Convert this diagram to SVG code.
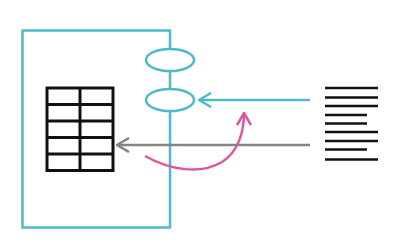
<svg xmlns="http://www.w3.org/2000/svg" width="404" height="248" viewBox="0 0 404 248">
<defs>
<style>
.blue{fill:none;stroke:#4fb9cc;stroke-width:2.5}
.tbl{fill:none;stroke:#111;stroke-width:3}
.doc{stroke:#111;stroke-width:2.6}
</style>
<marker id="ab" viewBox="0 0 14 16" refX="13" refY="8" markerWidth="14" markerHeight="16" markerUnits="userSpaceOnUse" orient="auto"><path d="M1,1 L13,8 L1,15" fill="none" stroke="#4fb9cc" stroke-width="2.5"/></marker>
<marker id="ag" viewBox="0 0 14 16" refX="13" refY="8" markerWidth="14" markerHeight="16" markerUnits="userSpaceOnUse" orient="auto"><path d="M1,1 L13,8 L1,15" fill="none" stroke="#858585" stroke-width="2.5"/></marker>
<marker id="ap" viewBox="0 0 14 16" refX="13" refY="8" markerWidth="14" markerHeight="16" markerUnits="userSpaceOnUse" orient="auto"><path d="M1,1 L13,8 L1,15" fill="none" stroke="#e0559b" stroke-width="2.5"/></marker>
</defs>
<g id="container">
<path class="blue" d="M170,49 V30.5 H22.5 V227.5 H170 V111"/>
<line class="blue" x1="170" y1="71" x2="170" y2="89"/>
</g>
<g id="port1"><ellipse class="blue" cx="170" cy="60" rx="24" ry="11"/></g>
<g id="port2"><ellipse class="blue" cx="170" cy="100" rx="24" ry="11"/></g>
<g id="table">
<rect class="tbl" x="47" y="88" width="66" height="82.5"/>
<line class="tbl" x1="80" y1="88" x2="80" y2="170.5"/>
<line class="tbl" x1="47" y1="104.5" x2="113" y2="104.5"/>
<line class="tbl" x1="47" y1="121" x2="113" y2="121"/>
<line class="tbl" x1="47" y1="137.5" x2="113" y2="137.5"/>
<line class="tbl" x1="47" y1="154" x2="113" y2="154"/>
</g>
<g id="document">
<line class="doc" x1="325" y1="88" x2="378" y2="88"/>
<line class="doc" x1="325" y1="97.5" x2="378" y2="97.5"/>
<line class="doc" x1="325" y1="106" x2="378" y2="106"/>
<line class="doc" x1="325" y1="115" x2="367" y2="115"/>
<line class="doc" x1="325" y1="123.5" x2="367" y2="123.5"/>
<line class="doc" x1="325" y1="132" x2="378" y2="132"/>
<line class="doc" x1="325" y1="141" x2="378" y2="141"/>
<line class="doc" x1="325" y1="149.5" x2="367" y2="149.5"/>
<line class="doc" x1="325" y1="159.5" x2="378" y2="159.5"/>
</g>
<g id="connectors">
<line x1="310" y1="100" x2="199" y2="100" stroke="#4fb9cc" stroke-width="2.5" marker-end="url(#ab)"/>
<line x1="310" y1="145" x2="117" y2="145" stroke="#858585" stroke-width="2.5" marker-end="url(#ag)"/>
<path d="M145,156 C170,170 200,175 222,162 C238,152 244,132 244,113" fill="none" stroke="#e0559b" stroke-width="2.5" marker-end="url(#ap)"/>
</g>
</svg>
